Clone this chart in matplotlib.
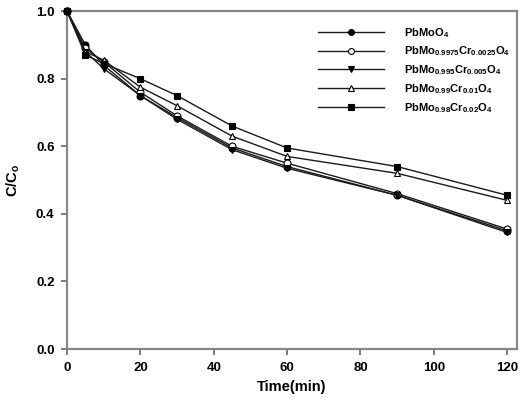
import matplotlib
matplotlib.use("Agg")
import matplotlib.pyplot as plt

# 시간축 (min)
time_min = [0, 5, 10, 20, 30, 45, 60, 90, 120]

c_pbmoo4 = [1.0, 0.90, 0.84, 0.75, 0.685, 0.595, 0.54, 0.455, 0.35]
c_cr0025 = [1.0, 0.89, 0.85, 0.76, 0.69, 0.60, 0.55, 0.46, 0.355]
c_cr005 = [1.0, 0.88, 0.83, 0.75, 0.68, 0.59, 0.535, 0.455, 0.345]
c_cr01 = [1.0, 0.88, 0.855, 0.775, 0.72, 0.63, 0.57, 0.52, 0.44]
c_cr02 = [1.0, 0.87, 0.845, 0.80, 0.75, 0.66, 0.595, 0.54, 0.455]

labels = [
    r"PbMoO$_4$",
    r"PbMo$_{0.9975}$Cr$_{0.0025}$O$_4$",
    r"PbMo$_{0.995}$Cr$_{0.005}$O$_4$",
    r"PbMo$_{0.99}$Cr$_{0.01}$O$_4$",
    r"PbMo$_{0.98}$Cr$_{0.02}$O$_4$",
]

plt.rcParams["font.family"] = ["Liberation Sans", "DejaVu Sans"]
plt.rcParams["font.weight"] = "bold"
plt.rcParams["mathtext.fontset"] = "custom"
plt.rcParams["mathtext.rm"] = "Liberation Sans:bold"
plt.rcParams["mathtext.it"] = "Liberation Sans:bold"
plt.rcParams["mathtext.bf"] = "Liberation Sans:bold"

fig = plt.figure(figsize=(5.32, 3.98), dpi=100)
ax = fig.add_axes([0.126, 0.123, 0.846, 0.849])

styles = [
    dict(marker="o", mfc="black"),
    dict(marker="o", mfc="white"),
    dict(marker="v", mfc="black"),
    dict(marker="^", mfc="white"),
    dict(marker="s", mfc="black"),
]
series = [c_pbmoo4, c_cr0025, c_cr005, c_cr01, c_cr02]
for ys, lab, st in zip(series, labels, styles):
    ax.plot(time_min, ys, color="#1a1a1a", lw=1.0, ms=5, mec="black",
            mew=0.8, label=lab, clip_on=False, zorder=3, **st)

ax.set_xlim(0, 122.7)
ax.set_ylim(0, 1.0)
ax.set_xticks(range(0, 121, 20))
ax.set_yticks([0.0, 0.2, 0.4, 0.6, 0.8, 1.0])
ax.set_yticklabels([f"{v:.1f}" for v in ax.get_yticks()])
for s in ax.spines.values():
    s.set_color("#888888")
    s.set_linewidth(1.6)
ax.tick_params(direction="out", length=4, width=1.2, color="#666666",
               labelsize=9.5, pad=5)
for t in ax.get_xticklabels() + ax.get_yticklabels():
    t.set_fontweight("bold")

ax.set_xlabel("Time(min)", fontsize=10.5, fontweight="bold", labelpad=5)
ax.set_ylabel(r"C/C$_o$", fontsize=10.5, fontweight="bold", labelpad=10)

ax.legend(loc="upper left", bbox_to_anchor=(0.547, 0.97), frameon=False,
          fontsize=8, handlelength=6.0, handletextpad=1.8, labelspacing=0.45,
          borderaxespad=0, markerscale=0.85)

fig.savefig("out.png", dpi=100)
